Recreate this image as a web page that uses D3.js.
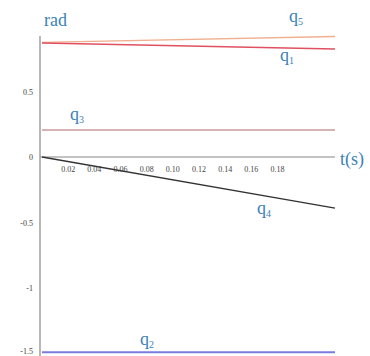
<!DOCTYPE html>
<html><head><meta charset="utf-8">
<script src="https://cdn.jsdelivr.net/npm/d3@7"></script>
<style>body{margin:0;background:#fff}svg{display:block}text{font-family:"Liberation Serif","DejaVu Serif","Times New Roman",serif}</style>
</head><body>
<svg id="c" width="370" height="356"></svg>
<script>
const times = [0, 0.224];
const q1 = [0.87, 0.824];
const q2 = [-1.49, -1.49];
const q3 = [0.206, 0.206];
const q4 = [0.0, -0.39];
const q5 = [0.875, 0.92];
const xTicks = [0.02,0.04,0.06,0.08,0.10,0.12,0.14,0.16,0.18];
const yTicks = [0.5,0,-0.5,-1,-1.5];

const svg = d3.select("#c");
const x = d3.scaleLinear().domain([0,0.224]).range([42,335]);
const y = d3.scaleLinear().domain([0,1]).range([157,26]);

svg.append("line").attr("x1",40).attr("x2",40).attr("y1",36).attr("y2",356).attr("stroke","#888").attr("stroke-width",1.2);
svg.append("line").attr("x1",40).attr("x2",335).attr("y1",y(0)).attr("y2",y(0)).attr("stroke","#888").attr("stroke-width",1.2);

svg.selectAll(".yt").data(yTicks).enter().append("text")
  .attr("x",33).attr("y",d=>Math.min(y(d)+3,354)).attr("text-anchor","end")
  .attr("font-size",8).attr("fill","#444")
  .text(d=>d===0?"0":String(d));
svg.selectAll(".xt").data(xTicks).enter().append("text")
  .attr("x",d=>x(d)).attr("y",172).attr("text-anchor","middle")
  .attr("font-size",8).attr("fill","#444")
  .text(d=>d.toFixed(2));

const line = d3.line().x((d,i)=>x(times[i])).y(d=>y(d));
const draw=(data,color,w)=>svg.append("path").datum(data).attr("d",line).attr("fill","none").attr("stroke",color).attr("stroke-width",w);
draw(q3,"#c89a9a",1.3);
draw(q4,"#333",1.3);
draw(q2,"#7b7be0",2);
draw(q5,"#f0b090",1.5);
draw(q1,"#e05060",1.5);

const lab=(txt,sub,xx,yy)=>{
  const t=svg.append("text").attr("x",xx).attr("y",yy).attr("font-size",18).attr("fill","#3a82b8");
  t.append("tspan").text(txt);
  if(sub) t.append("tspan").attr("font-size",10).attr("dy",3).text(sub);
};
lab("rad",null,44,26);
lab("q","5",289,22);
lab("q","1",280,61);
lab("q","3",70,120);
lab("t(s)",null,340,165);
lab("q","4",257,214);
lab("q","2",140,345);
</script>
</body></html>
